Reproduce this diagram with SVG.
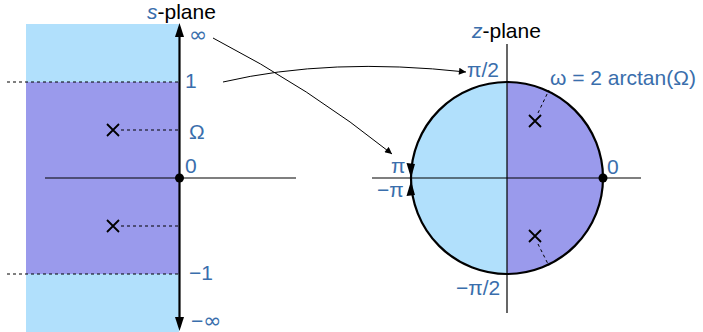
<svg xmlns="http://www.w3.org/2000/svg" width="703" height="332" viewBox="0 0 703 332">
<style>
.lb{fill:#b1e0fc}
.pu{fill:#9a9aec}
.ax{stroke:#000;stroke-width:1.2;fill:none}
.thick{stroke:#000;stroke-width:2.2;fill:none}
.dash{stroke:#000;stroke-width:1;stroke-dasharray:3,3;fill:none}
.cross{stroke:#000;stroke-width:1.8}
.t{font-family:"Liberation Sans",Arial,sans-serif;font-size:21px;fill:#3a6eac}
.tb{font-family:"Liberation Sans",Arial,sans-serif;font-size:21px;fill:#000}
.inf{font-family:"DejaVu Sans",sans-serif;font-size:22px;fill:#3a6eac}
.conn{stroke:#000;stroke-width:1;fill:none;marker-end:url(#ah)}
</style>
<defs>
<marker id="ah" viewBox="0 0 10 10" refX="10" refY="5" markerWidth="9" markerHeight="7" markerUnits="userSpaceOnUse" orient="auto">
<path d="M0,0 L10,5 L0,10 Z" fill="#000"/>
</marker>
</defs>

<g id="s-plane">
<rect class="lb" x="26" y="24" width="153" height="308"/>
<rect class="pu" x="26" y="82" width="153" height="192"/>
<line class="dash" x1="7" y1="82" x2="179" y2="82"/>
<line class="dash" x1="7" y1="274" x2="179" y2="274"/>
<line class="ax" x1="45" y1="178" x2="296" y2="178"/>
<line class="thick" x1="179.5" y1="34" x2="179.5" y2="320"/>
<polygon points="179.5,23 175,37 184,37" fill="#000"/>
<polygon points="179.5,331 175,317 184,317" fill="#000"/>
<circle cx="179.5" cy="178" r="4.5" fill="#000"/>
<path class="cross" d="M107,124 L119,136 M119,124 L107,136"/>
<path class="cross" d="M107,220 L119,232 M119,220 L107,232"/>
<line class="dash" x1="121" y1="130" x2="179" y2="130"/>
<line class="dash" x1="121" y1="226" x2="179" y2="226"/>
<text x="147" y="19"><tspan class="t" font-style="italic">s</tspan><tspan class="tb">-plane</tspan></text>
<text class="inf" x="189" y="42">∞</text>
<text class="t" x="185" y="88">1</text>
<text class="t" x="189" y="139">Ω</text>
<text class="t" x="185" y="173">0</text>
<text class="t" x="189" y="280">−1</text>
<text class="t" x="191" y="328"><tspan>−</tspan><tspan class="inf">∞</tspan></text>
</g>

<g id="z-plane">
<path class="lb" d="M507,82 A96,96 0 0,0 507,274 Z"/>
<path class="pu" d="M507,82 A96,96 0 0,1 507,274 Z"/>
<line class="ax" x1="507" y1="44" x2="507" y2="313"/>
<line class="ax" x1="372" y1="178" x2="641" y2="178"/>
<circle class="thick" cx="507" cy="178" r="96" stroke-width="2"/>
<polygon points="411,178 406.5,163 415,164" fill="#000"/>
<polygon points="411,181 406.5,196 415,195" fill="#000"/>
<circle cx="603" cy="178" r="4.5" fill="#000"/>
<path class="cross" d="M529,115 L541,127 M541,115 L529,127"/>
<path class="cross" d="M529,230 L541,242 M541,230 L529,242"/>
<line class="dash" x1="538" y1="113" x2="549" y2="90"/>
<line class="dash" x1="538" y1="244" x2="549" y2="266"/>
<text x="472" y="38"><tspan class="t" font-style="italic">z</tspan><tspan class="tb">-plane</tspan></text>
<text class="t" x="467" y="77">π/2</text>
<text class="t" x="550" y="85">ω = 2 arctan(Ω)</text>
<text class="t" x="391" y="173">π</text>
<text class="t" x="377" y="197">−π</text>
<text class="t" x="607" y="174">0</text>
<text class="t" x="456" y="295">−π/2</text>
</g>

<g id="connectors">
<path class="conn" d="M213,38 Q310,88 392,154"/>
<path class="conn" d="M223,82 Q330,57 466,72"/>
</g>
</svg>
